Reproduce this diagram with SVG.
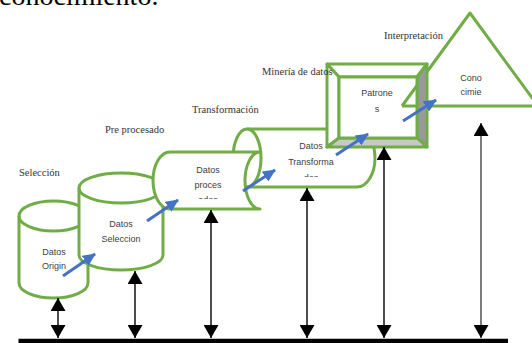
<svg xmlns="http://www.w3.org/2000/svg" width="532" height="343" viewBox="0 0 532 343">
<defs>
<style>
.g{fill:#fff;stroke:#70AD47;stroke-width:3;stroke-linejoin:round}
.gl{fill:none;stroke:#70AD47;stroke-width:3}
.lab{font-family:"Liberation Serif",serif;font-size:10.5px;fill:#333}
.nt{font-family:"Liberation Sans",Arial,sans-serif;font-size:9px;fill:#404040;text-anchor:middle}
.blue{stroke:#4472C4;stroke-width:3;fill:none;marker-end:url(#bh)}
.blk{stroke:#000;stroke-width:1.4;fill:none;marker-end:url(#kh)}
</style>
<marker id="bh" markerUnits="userSpaceOnUse" markerWidth="13" markerHeight="12" refX="12" refY="6" orient="auto"><path d="M0,0 L13,6 L0,12 z" fill="#4472C4"/></marker>
<marker id="kh" markerUnits="userSpaceOnUse" markerWidth="13" markerHeight="15" refX="13" refY="7.5" orient="auto-start-reverse"><path d="M0,0 L13,7.5 L0,15 z" fill="#000"/></marker>
<clipPath id="c3"><rect x="150" y="140" width="120" height="59"/></clipPath>
<clipPath id="c4"><rect x="240" y="120" width="140" height="57"/></clipPath>
</defs>
<rect width="532" height="343" fill="#fff"/>
<text x="-1" y="5" font-family="Liberation Serif,serif" font-size="28" fill="#000">conocimiento.</text>

<g id="cyl1">
<path class="g" d="M19,216 A34.5,15 0 0 1 88,216 L88,283 A34.5,15 0 0 1 19,283 Z"/>
<path class="gl" d="M19,216 A34.5,15 0 0 0 88,216"/>
<text class="nt" x="54" y="255">Datos</text>
<text class="nt" x="54" y="269">Origin</text>
</g>
<g id="cyl2">
<path class="g" d="M79,188 A42,15 0 0 1 163,188 L163,255 A42,15 0 0 1 79,255 Z"/>
<path class="gl" d="M79,188 A42,15 0 0 0 163,188"/>
<text class="nt" x="121" y="227">Datos</text>
<text class="nt" x="121" y="242">Seleccion</text>
</g>
<g id="cyl4">
<path class="g" d="M247,129 L357,129 A18,29 0 0 1 357,187 L247,187 A14,29 0 0 1 247,129 Z"/>
<path class="gl" d="M247,129 A14,29 0 0 1 247,187"/>
<g clip-path="url(#c4)">
<text class="nt" x="311" y="149">Datos</text>
<text class="nt" x="311" y="165">Transforma</text>
<text class="nt" x="311" y="181">dos</text>
</g>
</g>
<g id="cyl3">
<path class="g" d="M170,152 L260,152 A15,28.5 0 0 0 260,209 L170,209 A17,28.5 0 0 1 170,152 Z"/>
<g clip-path="url(#c3)">
<text class="nt" x="208" y="173">Datos</text>
<text class="nt" x="208" y="188">proces</text>
<text class="nt" x="208" y="203">ados</text>
</g>
</g>
<g id="tri">
<polygon class="g" points="470,13 402,106 538,106"/>
<text class="nt" x="471" y="81">Cono</text>
<text class="nt" x="471" y="95">cimie</text>
</g>
<g id="box">
<polygon points="327,64 427,64 417,77 339,77" fill="#fff" stroke="#70AD47" stroke-width="3" stroke-linejoin="round"/>
<polygon points="327,64 339,77 339,138 327,147" fill="#fff" stroke="#70AD47" stroke-width="3" stroke-linejoin="round"/>
<polygon points="427,64 427,147 417,138 417,77" fill="#999" stroke="#70AD47" stroke-width="3" stroke-linejoin="round"/>
<polygon points="327,147 427,147 417,138 339,138" fill="#c8c8c8" stroke="#70AD47" stroke-width="3" stroke-linejoin="round"/>
<rect x="339" y="77" width="78" height="61" fill="#fff" stroke="#70AD47" stroke-width="3"/>
<text class="nt" x="377" y="96">Patrone</text>
<text class="nt" x="377" y="112">s</text>
</g>
<path class="gl" d="M402,106 L417,106 M402,106 L417,85.5"/>
<g id="connectors">
<line class="blue" x1="63" y1="276" x2="95" y2="254"/>
<line class="blue" x1="147" y1="221" x2="178" y2="200"/>
<line class="blue" x1="243" y1="191" x2="275" y2="170"/>
<line class="blue" x1="336" y1="155" x2="368" y2="134"/>
<line class="blue" x1="403" y1="121" x2="436" y2="100"/>
<line class="blk" x1="58" y1="298" x2="58" y2="338" marker-start="url(#kh)"/>
<line class="blk" x1="135" y1="271" x2="135" y2="338" marker-start="url(#kh)"/>
<line class="blk" x1="211" y1="210" x2="211" y2="338" marker-start="url(#kh)"/>
<line class="blk" x1="307" y1="188" x2="307" y2="338" marker-start="url(#kh)"/>
<line class="blk" x1="384" y1="147" x2="384" y2="338" marker-start="url(#kh)"/>
<line class="blk" x1="481" y1="123" x2="481" y2="338" marker-start="url(#kh)" style="stroke:#444"/>
<line x1="18.5" y1="341" x2="508" y2="341" stroke="#000" stroke-width="4.5"/>
</g>
<g id="labels">
<text class="lab" x="19" y="176">Selección</text>
<text class="lab" x="105" y="133">Pre procesado</text>
<text class="lab" x="192" y="113">Transformación</text>
<text class="lab" x="262" y="75">Minería de datos</text>
<text class="lab" x="384" y="39">Interpretación</text>
</g>
</svg>
